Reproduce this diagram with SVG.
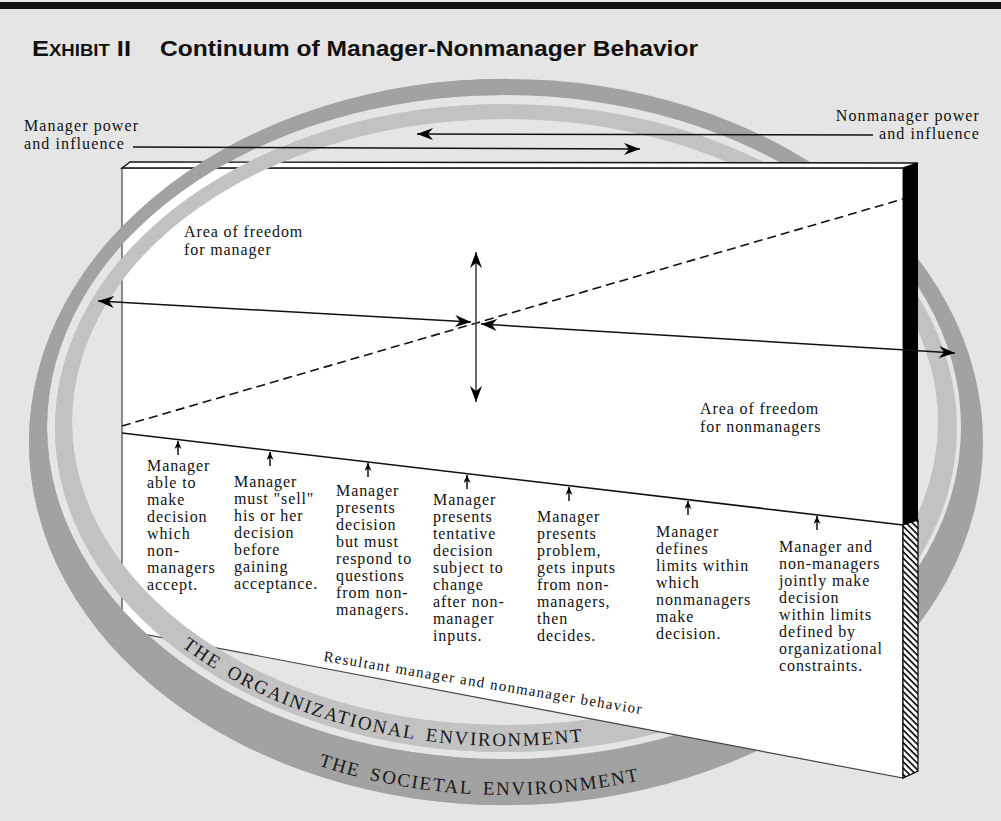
<svg xmlns="http://www.w3.org/2000/svg" width="1001" height="821" viewBox="0 0 1001 821">
<style>
.t{font-family:"Liberation Serif","Times New Roman",serif;font-size:16px;letter-spacing:0.9px;fill:#111}
.lab{font-family:"Liberation Serif","Times New Roman",serif;font-size:16px;letter-spacing:1.1px;fill:#111}
.ring{font-family:"Liberation Serif","Times New Roman",serif;font-size:19px;letter-spacing:1.8px;word-spacing:4px;fill:#1a1a1a}
.ln{stroke:#111;stroke-width:1.5;fill:none}
.dark{fill:#a2a2a2;fill-rule:evenodd}
.light{fill:#c2c2c2;fill-rule:evenodd}
</style>
<defs>
<marker id="ah" viewBox="0 0 16 12" refX="16" refY="6" markerWidth="16" markerHeight="12" markerUnits="userSpaceOnUse" orient="auto-start-reverse"><path d="M0,0 L16,6 L0,12 L5,6 Z" fill="#000"/></marker>
<marker id="sa" viewBox="0 0 8 7" refX="8" refY="3.5" markerWidth="8" markerHeight="7" markerUnits="userSpaceOnUse" orient="auto"><path d="M0,0 L8,3.5 L0,7 L2.5,3.5 Z" fill="#000"/></marker>
<pattern id="hatch" patternUnits="userSpaceOnUse" width="4.5" height="4.5" patternTransform="rotate(-45)"><rect width="4.5" height="4.5" fill="#fff"/><line x1="1" y1="0" x2="1" y2="4.5" stroke="#000" stroke-width="1.6"/></pattern>
<clipPath id="frontClip"><rect x="0" y="0" width="500" height="821"/></clipPath>
<path id="ringDark" d="M29,442 a477,363 0 1,0 954,0 a477,363 0 1,0 -954,0 Z M47,427 a457,332 0 1,0 914,0 a457,332 0 1,0 -914,0 Z"/>
<path id="ringLight" d="M55,428 a451,324 0 1,0 902,0 a451,324 0 1,0 -902,0 Z M72,422 a433,303 0 1,0 866,0 a433,303 0 1,0 -866,0 Z"/>
<path id="orgPath" d="M59,428 A447,318 0 0,0 953,428"/>
<path id="socPath" d="M36,440 A470,355 0 0,0 976,440"/>
</defs>
<rect width="1001" height="821" fill="#e5e5e5"/>
<rect x="0" y="2" width="1001" height="7" fill="#111"/>
<g id="title">
<text x="32" y="56" font-family="Liberation Sans, Arial, sans-serif" font-weight="bold" font-size="22" fill="#111" textLength="99" lengthAdjust="spacingAndGlyphs">E<tspan font-size="16">XHIBIT</tspan> II</text>
<text x="160" y="56" font-family="Liberation Sans, Arial, sans-serif" font-weight="bold" font-size="22" fill="#111" textLength="538" lengthAdjust="spacingAndGlyphs">Continuum of Manager-Nonmanager Behavior</text>
</g>
<g id="rings-back">
<use href="#ringDark" class="dark"/>
<use href="#ringLight" class="light"/>
</g>
<g id="board">
<polygon points="122,168 903,168 903,778 122,630" fill="#fff" stroke="#444" stroke-width="1.2"/>
<polygon points="122,168 130,162 918,163 903,168" fill="#fff" stroke="#111" stroke-width="1.4"/>
<polygon points="903,168 918,163 918,520 903,525" fill="#000"/>
<polygon points="903,525 918,520 918,771 903,778" fill="url(#hatch)" stroke="#000" stroke-width="1.2"/>
</g>
<g id="rings-front" clip-path="url(#frontClip)">
<use href="#ringDark" class="dark"/>
<use href="#ringLight" class="light"/>
</g>
<g id="ring-labels">
<text class="ring"><textPath href="#orgPath" startOffset="260">THE ORGAINIZATIONAL ENVIRONMENT</textPath></text>
<text class="ring"><textPath href="#socPath" startOffset="460">THE SOCIETAL ENVIRONMENT</textPath></text>
</g>
<g id="connectors">
<line class="ln" x1="873" y1="135" x2="417" y2="134" marker-end="url(#ah)"/>
<line class="ln" x1="133" y1="147" x2="640" y2="149" marker-end="url(#ah)"/>
<line x1="122" y1="426" x2="903" y2="199" stroke="#111" stroke-width="1.6" stroke-dasharray="9,5"/>
<line class="ln" x1="122" y1="433" x2="903" y2="525"/>
<line class="ln" x1="98" y1="301" x2="471" y2="322" marker-start="url(#ah)" marker-end="url(#ah)"/>
<line class="ln" x1="481" y1="324" x2="955" y2="353" marker-start="url(#ah)" marker-end="url(#ah)"/>
<line x1="476" y1="252" x2="476" y2="402" stroke="#444" stroke-width="1.6" marker-start="url(#ah)" marker-end="url(#ah)"/>
<line class="ln" x1="178" y1="455" x2="178" y2="441" marker-end="url(#sa)"/>
<line class="ln" x1="270" y1="466" x2="270" y2="452" marker-end="url(#sa)"/>
<line class="ln" x1="368" y1="477" x2="368" y2="463" marker-end="url(#sa)"/>
<line class="ln" x1="467" y1="489" x2="467" y2="475" marker-end="url(#sa)"/>
<line class="ln" x1="569" y1="501" x2="569" y2="487" marker-end="url(#sa)"/>
<line class="ln" x1="688" y1="515" x2="688" y2="501" marker-end="url(#sa)"/>
<line class="ln" x1="817" y1="530" x2="817" y2="516" marker-end="url(#sa)"/>
</g>
<g id="top-labels">
<text class="lab" x="24" y="131">Manager power</text>
<text class="lab" x="24" y="149">and influence</text>
<text class="lab" x="980" y="121" text-anchor="end">Nonmanager power</text>
<text class="lab" x="980" y="139" text-anchor="end">and influence</text>
</g>
<g id="area-manager"><text class="t" x="184" y="237">Area of freedom<tspan x="184" dy="18">for manager</tspan></text></g>
<g id="area-nonmanagers"><text class="t" x="700" y="414">Area of freedom<tspan x="700" dy="18">for nonmanagers</tspan></text></g>
<g id="col1"><text class="t" x="147" y="471">Manager<tspan x="147" dy="17">able to</tspan><tspan x="147" dy="17">make</tspan><tspan x="147" dy="17">decision</tspan><tspan x="147" dy="17">which</tspan><tspan x="147" dy="17">non-</tspan><tspan x="147" dy="17">managers</tspan><tspan x="147" dy="17">accept.</tspan></text></g>
<g id="col2"><text class="t" x="234" y="487">Manager<tspan x="234" dy="17">must "sell"</tspan><tspan x="234" dy="17">his or her</tspan><tspan x="234" dy="17">decision</tspan><tspan x="234" dy="17">before</tspan><tspan x="234" dy="17">gaining</tspan><tspan x="234" dy="17">acceptance.</tspan></text></g>
<g id="col3"><text class="t" x="336" y="496">Manager<tspan x="336" dy="17">presents</tspan><tspan x="336" dy="17">decision</tspan><tspan x="336" dy="17">but must</tspan><tspan x="336" dy="17">respond to</tspan><tspan x="336" dy="17">questions</tspan><tspan x="336" dy="17">from non-</tspan><tspan x="336" dy="17">managers.</tspan></text></g>
<g id="col4"><text class="t" x="433" y="505">Manager<tspan x="433" dy="17">presents</tspan><tspan x="433" dy="17">tentative</tspan><tspan x="433" dy="17">decision</tspan><tspan x="433" dy="17">subject to</tspan><tspan x="433" dy="17">change</tspan><tspan x="433" dy="17">after non-</tspan><tspan x="433" dy="17">manager</tspan><tspan x="433" dy="17">inputs.</tspan></text></g>
<g id="col5"><text class="t" x="537" y="522">Manager<tspan x="537" dy="17">presents</tspan><tspan x="537" dy="17">problem,</tspan><tspan x="537" dy="17">gets inputs</tspan><tspan x="537" dy="17">from non-</tspan><tspan x="537" dy="17">managers,</tspan><tspan x="537" dy="17">then</tspan><tspan x="537" dy="17">decides.</tspan></text></g>
<g id="col6"><text class="t" x="656" y="537">Manager<tspan x="656" dy="17">defines</tspan><tspan x="656" dy="17">limits within</tspan><tspan x="656" dy="17">which</tspan><tspan x="656" dy="17">nonmanagers</tspan><tspan x="656" dy="17">make</tspan><tspan x="656" dy="17">decision.</tspan></text></g>
<g id="col7"><text class="t" x="779" y="552">Manager and<tspan x="779" dy="17">non-managers</tspan><tspan x="779" dy="17">jointly make</tspan><tspan x="779" dy="17">decision</tspan><tspan x="779" dy="17">within limits</tspan><tspan x="779" dy="17">defined by</tspan><tspan x="779" dy="17">organizational</tspan><tspan x="779" dy="17">constraints.</tspan></text></g>
<g id="resultant"><text x="0" y="0" transform="translate(323,661) rotate(9.5)" font-family="Liberation Serif, Times New Roman, serif" font-size="15" fill="#111" textLength="322" lengthAdjust="spacing">Resultant manager and nonmanager behavior</text></g>
</svg>
